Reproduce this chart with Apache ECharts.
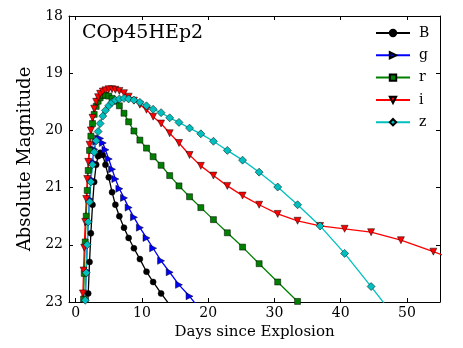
<!DOCTYPE html>
<html>
<head>
<meta charset="utf-8">
<script src="https://cdn.jsdelivr.net/npm/echarts@6/dist/echarts.min.js"></script>
<style>
html, body { margin: 0; padding: 0; background: #fff; }
#chart { width: 463px; height: 348px; }
</style>
</head>
<body>
<div id="chart"></div>
<script>
// days since explosion shared by all bands
const days = [1.0, 1.1, 1.2, 1.3, 1.45, 1.6, 1.75, 1.9, 2.1, 2.3, 2.55, 2.8, 3.1, 3.4, 3.7, 4.1, 4.5, 5.0, 5.5, 6.0,
  6.6, 7.3, 8.0, 8.8, 9.7, 10.7, 11.7, 12.9, 14.2, 15.6, 17.2, 18.9, 20.8, 22.9, 25.2, 27.7, 30.5, 33.5, 36.9, 40.6,
  44.6, 49.1, 54.0, 59.4];

const magB = [null, null, null, null, null, 23.6, 23.2, 22.85, 22.3, 21.8, 21.3, 20.9, 20.6, 20.45, 20.39, 20.43, 20.6, 20.82, 21.08, 21.3,
  21.5, 21.7, 21.88, 22.06, 22.25, 22.47, 22.65, 22.85, 23.05, null, null, null, null, null, null, null, null, null, null, null,
  null, null, null, null];
const magG = [null, null, null, 23.4, 22.95, 22.45, 22.0, 21.6, 21.2, 20.85, 20.55, 20.33, 20.2, 20.14, 20.14, 20.22, 20.34, 20.5, 20.68, 20.85,
  21.02, 21.18, 21.35, 21.52, 21.7, 21.88, 22.06, 22.28, 22.48, 22.7, 22.9, 23.15, null, null, null, null, null, null, null, null,
  null, null, null, null];
const magR = [23.8, 23.35, 22.95, 22.5, 21.95, 21.5, 21.05, 20.7, 20.35, 20.1, 19.88, 19.72, 19.58, 19.49, 19.43, 19.39, 19.38, 19.4, 19.44, 19.49,
  19.57, 19.7, 19.85, 20.01, 20.17, 20.31, 20.46, 20.61, 20.79, 20.97, 21.16, 21.35, 21.56, 21.79, 22.04, 22.33, 22.65, 22.99, 23.4, null,
  null, null, null, null];
const magI = [23.3, 22.85, 22.45, 22.05, 21.6, 21.2, 20.85, 20.55, 20.25, 20.0, 19.78, 19.62, 19.5, 19.42, 19.36, 19.32, 19.3, 19.28, 19.28, 19.29,
  19.31, 19.35, 19.41, 19.48, 19.55, 19.64, 19.76, 19.88, 20.05, 20.22, 20.43, 20.62, 20.79, 20.97, 21.14, 21.3, 21.46, 21.58, 21.67, 21.72,
  21.78, 21.92, 22.12, 22.35];
const magZ = [null, null, null, 23.45, 22.97, 22.49, 22.0, 21.6, 21.25, 20.9, 20.6, 20.38, 20.18, 20.02, 19.88, 19.75, 19.65, 19.57, 19.51, 19.47,
  19.45, 19.44, 19.45, 19.47, 19.51, 19.57, 19.63, 19.69, 19.78, 19.86, 19.96, 20.06, 20.19, 20.35, 20.52, 20.73, 20.99, 21.3, 21.67, 22.15,
  22.73, 23.4, null, null];

const xTicks = [0, 10, 20, 30, 40, 50];
const yTicks = [18, 19, 20, 21, 22, 23];

const serif = '"DejaVu Serif", serif';

const pairs = (mags) => days.map((d, i) => [d, mags[i]]).filter(p => p[1] !== null);

const band = (name, mags, color, symbol, rotate, size) => ({
  name: name,
  type: 'line',
  data: pairs(mags),
  symbol: symbol,
  symbolSize: size,
  symbolRotate: rotate,
  showAllSymbol: true,
  clip: true,
  animation: false,
  lineStyle: { color: color, width: 1.3 },
  itemStyle: { color: color, borderColor: '#000', borderWidth: 0.5 }
});

const frameAxis = (extra) => Object.assign({
  type: 'value',
  axisLine: { show: true, onZero: false, lineStyle: { color: '#000', width: 1 } },
  axisTick: { show: true, inside: true, length: 4, lineStyle: { color: '#000' } },
  splitLine: { show: false }
}, extra);

const chart = echarts.init(document.getElementById('chart'));
chart.setOption({
  animation: false,
  backgroundColor: '#fff',
  grid: { left: 69, top: 16, width: 371, height: 286 },
  graphic: [{
    type: 'text', left: 82, top: 24,
    style: { text: 'COp45HEp2', font: '19px ' + serif, fill: '#000' }
  }],
  legend: {
    orient: 'vertical',
    left: 370, top: 21,
    itemWidth: 34, itemHeight: 8, itemGap: 8.3,
    textStyle: { fontFamily: serif, fontSize: 14, lineHeight: 14, color: '#000', padding: [0, 0, 0, 4] },
    data: ['B', 'g', 'r', 'i', 'z']
  },
  xAxis: [
    frameAxis({
      position: 'bottom', min: -1, max: 55,
      name: 'Days since Explosion', nameLocation: 'middle', nameGap: 20,
      nameTextStyle: { fontFamily: serif, fontSize: 15, color: '#000' },
      axisTick: { show: true, inside: true, length: 4, lineStyle: { color: '#000' }, customValues: xTicks },
      axisLabel: { fontFamily: serif, fontSize: 14, color: '#000', margin: 4, customValues: xTicks }
    }),
    frameAxis({
      position: 'top', min: -1, max: 55,
      axisTick: { show: true, inside: true, length: 4, lineStyle: { color: '#000' }, customValues: xTicks },
      axisLabel: { show: false }
    })
  ],
  yAxis: [
    frameAxis({
      position: 'left', min: 18, max: 23, interval: 1, inverse: true,
      name: 'Absolute Magnitude', nameLocation: 'middle', nameGap: 23,
      nameTextStyle: { fontFamily: serif, fontSize: 18, color: '#000' },
      axisLabel: { fontFamily: serif, fontSize: 14, color: '#000', margin: 6,
        customValues: yTicks }
    }),
    frameAxis({
      position: 'right', min: 18, max: 23, interval: 1, inverse: true,
      axisLabel: { show: false }
    })
  ],
  series: [
    band('B', magB, '#000000', 'circle', 0, 6),
    band('g', magG, '#0000ff', 'triangle', -90, 7),
    band('r', magR, '#008000', 'rect', 0, 6),
    band('i', magI, '#ff0000', 'triangle', 180, 7),
    band('z', magZ, '#00bfbf', 'diamond', 0, 8)
  ]
});
</script>
</body>
</html>
